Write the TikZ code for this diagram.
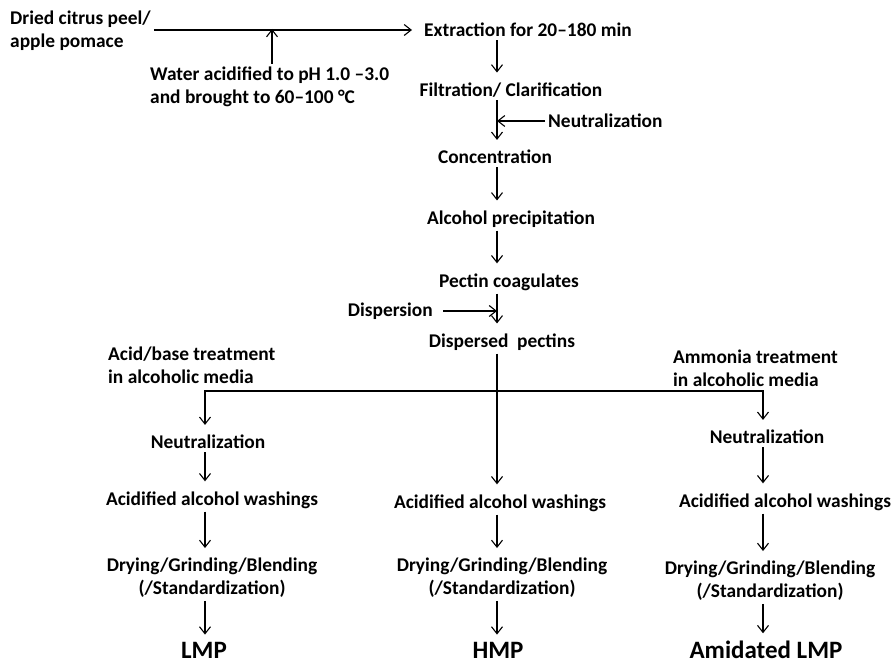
\documentclass[tikz,border=0pt]{standalone}
\usepackage{fontspec}
\setmainfont{Carlito}
\usetikzlibrary{arrows.meta}
\begin{document}
\begin{tikzpicture}[x=1pt,y=-1pt,
  font=\bfseries\fontsize{19.4}{23}\selectfont,
  stage/.style={inner xsep=3pt,inner ysep=3pt,align=center},
  product/.style={inner xsep=3pt,inner ysep=0pt,anchor=base,font=\bfseries\fontsize{25}{28}\selectfont},
  flow/.style={-{Straight Barb[length=7pt,width=11pt]},line width=1.1pt},
  down/.style={flow,shorten >=7pt}]
\useasboundingbox (0,0) rectangle (893,663);
\pgfmathsetmacro\lx{205}
\pgfmathsetmacro\mx{497}
\pgfmathsetmacro\rx{763}
\coordinate (l) at (\lx,0);
\coordinate (m) at (\mx,0);
\coordinate (r) at (\rx,0);
\node[stage,align=left,anchor=west] (peel) at (7,31) {Dried citrus peel/\\apple pomace};
\node[stage,anchor=west] (ext) at (421,30) {Extraction for 20–180 min};
\node[stage,align=left,anchor=west] (water) at (147,87) {Water acidified to pH 1.0 –3.0\\and brought to 60–100 °C};
\node[stage] (filt) at (511,90) {Filtration/ Clarification};
\node[stage,anchor=west] (neut) at (545,121) {Neutralization};
\node[stage] (conc) at (495,157) {Concentration};
\node[stage] (alc) at (511,219) {Alcohol precipitation};
\node[stage] (pect) at (509,282) {Pectin coagulates};
\node[stage,anchor=east] (disp) at (436,311) {Dispersion};
\node[stage] (dpec) at (502,342) {Dispersed\ \ pectins};
\node[stage,align=left,anchor=west] (acid) at (105,365) {Acid/base treatment\\in alcoholic media};
\node[stage,align=left,anchor=west] (ammo) at (670,368) {Ammonia treatment\\in alcoholic media};
\node[stage] (lneut) at (208,442) {Neutralization};
\node[stage] (lacid) at (212,500) {Acidified alcohol washings};
\node[stage] (ldry) at (212,578) {Drying/Grinding/Blending\\(/Standardization)};
\node[product] (lmp) at (204,658) {LMP};
\node[stage] (macid) at (500,503) {Acidified alcohol washings};
\node[stage] (mdry) at (502,578) {Drying/Grinding/Blending\\(/Standardization)};
\node[product] (hmp) at (498,658) {HMP};
\node[stage] (rneut) at (767,437) {Neutralization};
\node[stage] (racid) at (785,502) {Acidified alcohol washings};
\node[stage] (rdry) at (770,581) {Drying/Grinding/Blending\\(/Standardization)};
\node[product] (amlmp) at (766,658) {Amidated LMP};
\coordinate (wj) at (272,29);
\coordinate (nj) at (\mx,121);
\coordinate (dj) at (\mx,311);
\coordinate (bj) at (\mx,391);
\draw[flow,shorten >=9pt] (peel.east |- ext.west) -- (ext.west);
\draw[flow] (water.north -| wj) -- (wj);
\draw[flow] (neut.west) -- (nj);
\draw[flow] ([xshift=7pt]disp.east) -- (dj);
\foreach \a/\b in {ext/filt,filt/conc,conc/alc,alc/pect,pect/dpec,dpec/macid,macid/mdry,mdry/hmp}
  \draw[down] (\a.south -| m) -- (\b.north -| m);
\foreach \a/\b in {lneut/lacid,lacid/ldry,ldry/lmp}
  \draw[down] (\a.south -| l) -- (\b.north -| l);
\foreach \a/\b in {rneut/racid,racid/rdry,rdry/amlmp}
  \draw[down] (\a.south -| r) -- (\b.north -| r);
\draw[down] (bj) -| (lneut.north -| l);
\draw[down] (bj) -| (rneut.north -| r);
\end{tikzpicture}
\end{document}
